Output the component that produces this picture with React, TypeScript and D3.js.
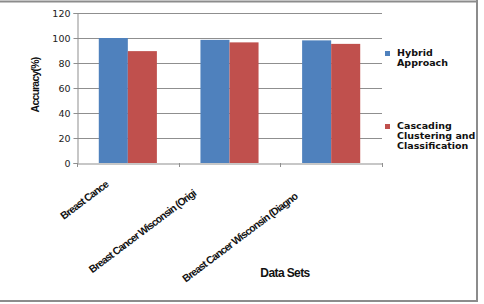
import React, { useRef, useEffect } from "react";
import * as d3 from "d3";

const categories = [
  "Breast Cance",
  "Breast Cancer Wisconsin (Origi",
  "Breast Cancer Wisconsin (Diagno",
];
const seriesNames = ["Hybrid Approach", "Cascading Clustering and Classification"];
const hybridValues = [100, 98.5, 98.1];
const cascadingValues = [89.5, 96.5, 95.3];
const yTicks = [0, 20, 40, 60, 80, 100, 120];
const colors = ["#4F81BD", "#C0504D"];

const W = 484;
const H = 304;
const margin = { left: 77, top: 13, right: 102, bottom: 141 };

// where each rotated label ends, relative to its band centre / the axis
const labelDx = [-19, -33, -33];
const labelDy = [23, 32, 35];

function App() {
  const svgRef = useRef<SVGSVGElement>(null);

  useEffect(() => {
    const svg = d3.select(svgRef.current);
    svg.selectAll("*").remove();

    const x = d3
      .scaleBand()
      .domain(categories)
      .range([margin.left, W - margin.right]);
    const y = d3
      .scaleLinear()
      .domain([0, 120])
      .range([H - margin.bottom, margin.top]);
    const inner = d3
      .scaleBand()
      .domain(seriesNames)
      .range([0, x.bandwidth()])
      .paddingInner(0)
      .paddingOuter(0.75);

    // outer frame
    svg.append("line").attr("x1", 0).attr("x2", 478).attr("y1", 1.5).attr("y2", 1.5)
      .attr("stroke", "#8c8c8c").attr("stroke-width", 2);
    svg.append("line").attr("x1", 477).attr("x2", 477).attr("y1", 0).attr("y2", 302)
      .attr("stroke", "#8c8c8c").attr("stroke-width", 2);
    svg.append("line").attr("x1", 0).attr("x2", 478).attr("y1", 301).attr("y2", 301)
      .attr("stroke", "#8c8c8c").attr("stroke-width", 2);

    // gridlines
    svg.append("g")
      .selectAll("line")
      .data(yTicks.slice(1))
      .join("line")
      .attr("x1", margin.left)
      .attr("x2", W - margin.right)
      .attr("y1", (d) => Math.round(y(d)) + 0.5)
      .attr("y2", (d) => Math.round(y(d)) + 0.5)
      .attr("stroke", "#8f8f8f")
      .attr("stroke-width", 1);

    // y axis
    const yAxis = svg.append("g")
      .attr("transform", `translate(${margin.left + 0.5},0)`)
      .call(d3.axisLeft(y).tickValues(yTicks).tickSize(4).tickPadding(3));
    yAxis.select(".domain").attr("stroke", "#8f8f8f");
    yAxis.selectAll(".tick line").attr("stroke", "#8f8f8f");
    yAxis.selectAll(".tick text")
      .attr("font-family", "Verdana, 'DejaVu Sans', sans-serif")
      .attr("font-size", 9.5)
      .attr("fill", "#222");

    // bars
    const groups = svg.append("g")
      .selectAll("g")
      .data(categories)
      .join("g")
      .attr("transform", (d) => `translate(${x(d)},0)`);
    groups
      .selectAll("rect")
      .data((d, i) => [
        { s: seriesNames[0], v: hybridValues[i] },
        { s: seriesNames[1], v: cascadingValues[i] },
      ])
      .join("rect")
      .attr("x", (d) => inner(d.s)!)
      .attr("width", inner.bandwidth())
      .attr("y", (d) => y(d.v))
      .attr("height", (d) => y(0) - y(d.v))
      .attr("fill", (d, i) => colors[i]);

    // x axis
    const xAxis = svg.append("g")
      .attr("transform", `translate(0,${H - margin.bottom + 0.5})`)
      .call(d3.axisBottom(x).tickSize(0).tickFormat(() => ""));
    xAxis.select(".domain").attr("stroke", "#8f8f8f");
    const bounds = [margin.left, ...categories.map((c) => x(c)! + x.bandwidth())];
    svg.append("g")
      .selectAll("line")
      .data(bounds)
      .join("line")
      .attr("x1", (d) => Math.round(d) + 0.5)
      .attr("x2", (d) => Math.round(d) + 0.5)
      .attr("y1", H - margin.bottom)
      .attr("y2", H - margin.bottom + 4)
      .attr("stroke", "#8f8f8f");

    // rotated category labels
    svg.append("g")
      .selectAll("text")
      .data(categories)
      .join("text")
      .attr("transform", (d, i) => {
        const cx = x(d)! + x.bandwidth() / 2 + labelDx[i];
        return `translate(${cx},${H - margin.bottom + labelDy[i]}) rotate(-37)`;
      })
      .attr("text-anchor", "end")
      .attr("font-family", "'Liberation Sans', Arial, sans-serif")
      .attr("font-weight", "bold")
      .attr("font-size", 10.5)
      .attr("letter-spacing", -0.9)
      .attr("fill", "#111")
      .text((d) => d);

    // axis titles
    svg.append("text")
      .attr("transform", `translate(39,85) rotate(-90)`)
      .attr("text-anchor", "middle")
      .attr("font-family", "'Liberation Sans', Arial, sans-serif")
      .attr("font-weight", "bold")
      .attr("font-size", 10.5)
      .attr("letter-spacing", -0.8)
      .attr("fill", "#111")
      .text("Accuracy(%)");
    svg.append("text")
      .attr("x", 285)
      .attr("y", 277)
      .attr("text-anchor", "middle")
      .attr("font-family", "'Liberation Sans', Arial, sans-serif")
      .attr("font-weight", "bold")
      .attr("font-size", 12)
      .attr("letter-spacing", -0.6)
      .attr("fill", "#111")
      .text("Data Sets");

    // legend
    const legendLines = [["Hybrid", "Approach"], ["Cascading", "Clustering and", "Classification"]];
    const legendTop = [56, 129];
    const legend = svg.append("g")
      .selectAll("g")
      .data(seriesNames)
      .join("g")
      .attr("transform", (d, i) => `translate(385,${legendTop[i]})`);
    legend.append("rect")
      .attr("x", 0)
      .attr("y", -5)
      .attr("width", 5)
      .attr("height", 5)
      .attr("fill", (d, i) => colors[i]);
    legend.each(function (d, i) {
      d3.select(this)
        .append("text")
        .attr("x", 12)
        .attr("font-family", "'DejaVu Sans', Verdana, sans-serif")
        .attr("font-weight", "bold")
        .attr("font-size", 9.5)
        .attr("fill", "#111")
        .selectAll("tspan")
        .data(legendLines[i])
        .join("tspan")
        .attr("x", 12)
        .attr("dy", (t, j) => (j === 0 ? 0 : 10.2))
        .text((t) => t);
    });
  }, []);

  return (
    <svg
      ref={svgRef}
      width={W}
      height={H}
      style={{ position: "absolute", left: 0, top: 0, background: "#fff" }}
    />
  );
}

export default App;
